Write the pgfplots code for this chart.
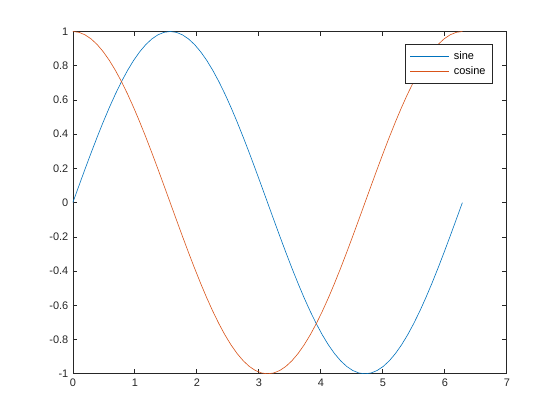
\documentclass[border=0pt]{standalone}
\usepackage{pgfplots}
\pgfplotsset{compat=1.18}
\usepackage{pgfplotstable}
\usepackage{fontspec}
\setmainfont{Liberation Sans}
\definecolor{mblue}{rgb}{0,0.447,0.741}
\definecolor{morange}{rgb}{0.85,0.325,0.098}
\definecolor{axgray}{rgb}{0.15,0.15,0.15}
\pgfplotstableread{
x s c
0.0000 0.0000 1.0000
0.0982 0.0980 0.9952
0.1963 0.1951 0.9808
0.2945 0.2903 0.9569
0.3927 0.3827 0.9239
0.4909 0.4714 0.8819
0.5890 0.5556 0.8315
0.6872 0.6344 0.7730
0.7854 0.7071 0.7071
0.8836 0.7730 0.6344
0.9817 0.8315 0.5556
1.0799 0.8819 0.4714
1.1781 0.9239 0.3827
1.2763 0.9569 0.2903
1.3744 0.9808 0.1951
1.4726 0.9952 0.0980
1.5708 1.0000 0.0000
1.6690 0.9952 -0.0980
1.7671 0.9808 -0.1951
1.8653 0.9569 -0.2903
1.9635 0.9239 -0.3827
2.0617 0.8819 -0.4714
2.1598 0.8315 -0.5556
2.2580 0.7730 -0.6344
2.3562 0.7071 -0.7071
2.4544 0.6344 -0.7730
2.5525 0.5556 -0.8315
2.6507 0.4714 -0.8819
2.7489 0.3827 -0.9239
2.8471 0.2903 -0.9569
2.9452 0.1951 -0.9808
3.0434 0.0980 -0.9952
3.1416 0.0000 -1.0000
3.2398 -0.0980 -0.9952
3.3379 -0.1951 -0.9808
3.4361 -0.2903 -0.9569
3.5343 -0.3827 -0.9239
3.6325 -0.4714 -0.8819
3.7306 -0.5556 -0.8315
3.8288 -0.6344 -0.7730
3.9270 -0.7071 -0.7071
4.0252 -0.7730 -0.6344
4.1233 -0.8315 -0.5556
4.2215 -0.8819 -0.4714
4.3197 -0.9239 -0.3827
4.4179 -0.9569 -0.2903
4.5160 -0.9808 -0.1951
4.6142 -0.9952 -0.0980
4.7124 -1.0000 0.0000
4.8106 -0.9952 0.0980
4.9087 -0.9808 0.1951
5.0069 -0.9569 0.2903
5.1051 -0.9239 0.3827
5.2033 -0.8819 0.4714
5.3014 -0.8315 0.5556
5.3996 -0.7730 0.6344
5.4978 -0.7071 0.7071
5.5960 -0.6344 0.7730
5.6941 -0.5556 0.8315
5.7923 -0.4714 0.8819
5.8905 -0.3827 0.9239
5.9887 -0.2903 0.9569
6.0868 -0.1951 0.9808
6.1850 -0.0980 0.9952
6.2832 0.0000 1.0000
}\datatable
\begin{document}
\begin{tikzpicture}
\useasboundingbox (-72.8bp,-46.2bp) rectangle (487.2bp,373.8bp);
\begin{axis}[
  at={(0,0)}, anchor=south west,
  scale only axis, width=434bp, height=342.3bp,
  xmin=0, xmax=7, ymin=-1, ymax=1,
  xtick={0,1,2,3,4,5,6,7},
  xticklabels={0,1,2,3,4,5,6,7},
  ytick={-1,-0.8,-0.6,-0.4,-0.2,0,0.2,0.4,0.6,0.8,1},
  yticklabels={-1,-0.8,-0.6,-0.4,-0.2,0,0.2,0.4,0.6,0.8,1},
  tick align=inside,
  major tick length=4.3bp,
  axis line style={draw=axgray, line width=0.6bp},
  every tick/.style={draw=axgray, line width=0.6bp},
  tick label style={font=\fontsize{11}{13}\selectfont, text=axgray},
  yticklabel style={xshift=-1bp},
  xticklabel style={yshift=-2bp},
  legend style={at={(1,1)}, anchor=north east, xshift=-14bp, yshift=-12.5bp,
    draw=axgray, line width=0.5bp, inner xsep=5bp, inner ysep=4.5bp,
    font=\fontsize{11}{13}\selectfont,
    nodes={inner sep=2bp, text height=8.5bp, text depth=2.5bp}},
  legend cell align=left,
  legend image code/.code={\draw[#1] (0bp,0bp) -- (39bp,0bp); \path (41.5bp,0bp);},
]
\addplot[mblue, line width=0.6bp] table[x=x, y=s] {\datatable};
\addlegendentry{sine}
\addplot[morange, line width=0.6bp] table[x=x, y=c] {\datatable};
\addlegendentry{cosine}
\end{axis}
\end{tikzpicture}
\end{document}
